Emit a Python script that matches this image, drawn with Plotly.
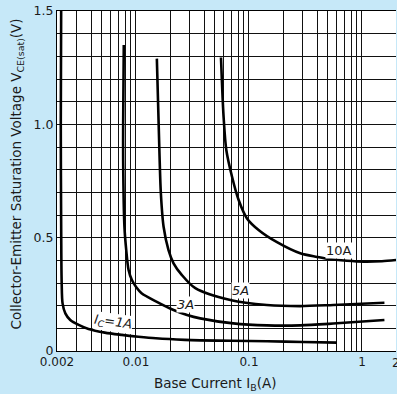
import math
import plotly.graph_objects as go

# Data
ic1_ib = [0.00218, 0.00216, 0.00218, 0.0022, 0.00224, 0.00237, 0.00262, 0.00311, 0.0038, 0.0053, 0.0075, 0.0105, 0.015, 0.027, 0.037, 0.07, 0.145, 0.3, 0.6]
ic1_v = [1.6, 1.0, 0.5, 0.3, 0.21, 0.166, 0.137, 0.115, 0.097, 0.081, 0.071, 0.063, 0.056, 0.049, 0.047, 0.045, 0.043, 0.040, 0.037]

ic3_ib = [0.0078, 0.0077, 0.0077, 0.0079, 0.0082, 0.0086, 0.0092, 0.0101, 0.0112, 0.0153, 0.0215, 0.0283, 0.037, 0.0726, 0.144, 0.284, 0.557, 1.58]
ic3_v = [1.35, 1.0, 0.84, 0.55, 0.445, 0.357, 0.313, 0.28, 0.255, 0.217, 0.181, 0.159, 0.144, 0.122, 0.113, 0.113, 0.121, 0.137]

ic5_ib = [0.0153, 0.0162, 0.0166, 0.01755, 0.0194, 0.0215, 0.0255, 0.0335, 0.0684, 0.144, 0.284, 0.557, 1.58]
ic5_v = [1.29, 0.842, 0.696, 0.548, 0.445, 0.387, 0.335, 0.277, 0.225, 0.203, 0.198, 0.203, 0.213]

ic10_ib = [0.0565, 0.0577, 0.0596, 0.063, 0.0708, 0.081, 0.096, 0.1216, 0.177, 0.284, 0.4, 0.49, 0.737, 1.05, 1.5, 2.05]
ic10_v = [1.295, 1.18, 1.033, 0.887, 0.769, 0.666, 0.585, 0.534, 0.48, 0.431, 0.415, 0.407, 0.398, 0.394, 0.396, 0.402]

x_tickvals = [0.002, 0.01, 0.1, 1]
x_ticktext = ["0.002", "0.01", "0.1", "1"]
x_edge_label = (2, "2")
x_minor = [0.003, 0.004, 0.005, 0.006, 0.007, 0.008, 0.009,
           0.02, 0.03, 0.04, 0.05, 0.06, 0.07, 0.08, 0.09,
           0.2, 0.3, 0.4, 0.5, 0.6, 0.7, 0.8, 0.9]
y_tickvals = [0, 0.5, 1.0, 1.5]
y_ticktext = ["0", "0.5", "1.0", "1.5"]

labels = [
    ("<i>I<sub>C</sub>=1A</i>", 0.0062, 0.124, 8),
    ("<i>3A</i>", 0.0273, 0.203, 0),
    ("<i>5A</i>", 0.0838, 0.265, 0),
    ("10A", 0.63, 0.443, 0),
]

FONT = "DejaVu Sans"
TXT = "#1a1a1a"
BG = "#C6E8F8"

fig = go.Figure()
for xs, ys in [(ic1_ib, ic1_v), (ic3_ib, ic3_v), (ic5_ib, ic5_v), (ic10_ib, ic10_v)]:
    fig.add_trace(go.Scatter(x=xs, y=ys, mode="lines",
                             line=dict(color="black", width=2.6, shape="spline", smoothing=0.8),
                             showlegend=False, hoverinfo="skip"))

fig.update_xaxes(type="log", range=[math.log10(0.002), math.log10(2)],
                 tickmode="array", tickvals=x_tickvals + [x_edge_label[0]],
                 ticktext=x_ticktext + [""],
                 showgrid=True, gridcolor="#111", gridwidth=1,
                 minor=dict(tickmode="array", tickvals=x_minor, showgrid=True,
                            gridcolor="#111", gridwidth=1, ticks=""),
                 showline=True, linecolor="black", linewidth=1, mirror=True,
                 ticks="", tickfont=dict(family=FONT, size=12, color=TXT),
                 zeroline=False)
fig.update_yaxes(range=[0, 1.5], tickmode="array", tickvals=y_tickvals, ticktext=y_ticktext,
                 showgrid=True, gridcolor="#111", gridwidth=1,
                 minor=dict(dtick=0.1, showgrid=True, gridcolor="#111", gridwidth=1, ticks=""),
                 showline=True, linecolor="black", linewidth=1,
                 ticks="", tickfont=dict(family=FONT, size=12.5, color=TXT),
                 zeroline=False)

for txt, x, y, ang in labels:
    fig.add_annotation(x=math.log10(x), y=y, text=txt, showarrow=False,
                       font=dict(family=FONT, size=13, color=TXT),
                       bgcolor="white", borderpad=0, textangle=ang,
                       xanchor="center", yanchor="middle")

# right-edge "2" tick label (cut by the page edge as in the reference)
fig.add_annotation(x=math.log10(x_edge_label[0]), xref="x", yref="paper", y=-0.035,
                   text=x_edge_label[1], showarrow=False,
                   font=dict(family=FONT, size=12, color=TXT),
                   xanchor="center", yanchor="middle")

fig.add_annotation(xref="paper", yref="paper", x=-0.118, y=0.522,
                   text="Collector-Emitter Saturation Voltage V<sub>CE(sat)</sub>(V)",
                   textangle=-90, showarrow=False,
                   font=dict(family=FONT, size=13.5, color=TXT),
                   xanchor="center", yanchor="middle")
fig.add_annotation(xref="paper", yref="paper", x=0.466, y=-0.097,
                   text="Base Current I<sub>B</sub>(A)", showarrow=False,
                   font=dict(family=FONT, size=13.5, color=TXT),
                   xanchor="center", yanchor="middle")

fig.update_layout(width=397, height=394,
                  margin=dict(l=57, r=1, t=11, b=43),
                  paper_bgcolor=BG, plot_bgcolor="white")

fig.write_html("out.html", config={"displayModeBar": False},
               post_script="document.body.style.margin='0';document.body.style.overflow='hidden';")
